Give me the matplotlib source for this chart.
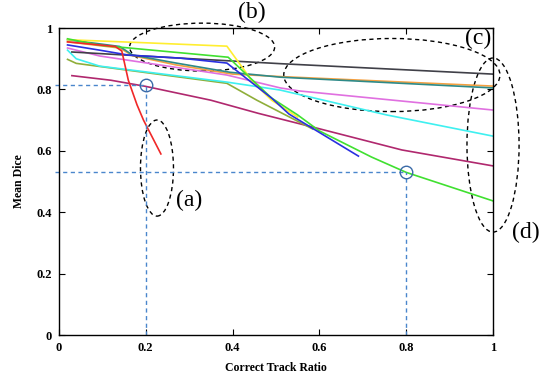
import matplotlib
matplotlib.use("Agg")
import matplotlib.pyplot as plt
from matplotlib.patches import Ellipse

# curves: (correct track ratio, mean dice)
red_x = [0.02, 0.13, 0.145, 0.16, 0.18, 0.195, 0.235]
red_y = [0.955, 0.94, 0.925, 0.83, 0.75, 0.70, 0.59]
yellow_x = [0.02, 0.20, 0.387, 0.447, 0.49, 0.55]
yellow_y = [0.962, 0.952, 0.941, 0.824, 0.765, 0.71]
green_x = [0.02, 0.094, 0.20, 0.39, 0.49, 0.55, 0.60, 0.72, 0.80, 1.0]
green_y = [0.965, 0.944, 0.93, 0.905, 0.772, 0.717, 0.665, 0.58, 0.53, 0.437]
teal_x = [0.02, 0.14, 0.17, 0.27, 0.394, 0.51, 1.0]
teal_y = [0.962, 0.94, 0.912, 0.886, 0.856, 0.84, 0.805]
orange_x = [0.02, 0.14, 0.17, 0.27, 0.40, 0.51, 1.0]
orange_y = [0.955, 0.935, 0.91, 0.88, 0.85, 0.842, 0.811]
black_x = [0.03, 0.28, 0.51, 1.0]
black_y = [0.922, 0.902, 0.884, 0.85]
blue_x = [0.02, 0.094, 0.16, 0.28, 0.387, 0.46, 0.49, 0.53, 0.69]
blue_y = [0.945, 0.928, 0.912, 0.902, 0.886, 0.805, 0.772, 0.72, 0.583]
magenta_x = [0.02, 0.094, 0.279, 0.387, 0.51, 0.555, 1.0]
magenta_y = [0.935, 0.909, 0.87, 0.847, 0.805, 0.795, 0.733]
cyan_x = [0.02, 0.04, 0.094, 0.387, 0.51, 0.755, 1.0]
cyan_y = [0.928, 0.90, 0.876, 0.824, 0.798, 0.717, 0.648]
olive_x = [0.02, 0.04, 0.387, 0.456, 0.585]
olive_y = [0.898, 0.885, 0.82, 0.765, 0.671]
maroon_x = [0.03, 0.12, 0.20, 0.35, 0.46, 0.60, 0.79, 1.0]
maroon_y = [0.845, 0.83, 0.81, 0.765, 0.722, 0.672, 0.603, 0.551]

# highlighted points
mark_x = [0.2, 0.8]
mark_y = [0.815, 0.53]

curves = [
    (maroon_x, maroon_y, '#b0286e'),
    (olive_x, olive_y, '#8fae3a'),
    (cyan_x, cyan_y, '#3ff0f0'),
    (magenta_x, magenta_y, '#e070e0'),
    (orange_x, orange_y, '#f5a040'),
    (teal_x, teal_y, '#2e8a88'),
    (black_x, black_y, '#404048'),
    (yellow_x, yellow_y, '#ffee30'),
    (green_x, green_y, '#40e030'),
    (blue_x, blue_y, '#2a30e0'),
    (red_x, red_y, '#f02828'),
]

plt.rcParams['font.family'] = ['Liberation Serif', 'DejaVu Serif']

fig = plt.figure(figsize=(5.4, 3.74), dpi=100)
ax = fig.add_axes([0.109, 0.104, 0.804, 0.821])

for xs, ys, c in curves:
    ax.plot(xs, ys, color=c, lw=1.2)

# dashed guide lines to the two marked points
dash_c = '#4a86cc'
for mx, my in zip(mark_x, mark_y):
    ax.plot([-0.01, mx], [my, my], color=dash_c, lw=1, ls=(0, (3, 2.5)), clip_on=False)
    ax.plot([mx, mx], [0, my], color=dash_c, lw=1, ls=(0, (3, 2.5)))
ax.plot(mark_x, mark_y, 'o', ms=9, mfc='none', mec='#3a6aa8', mew=1)

# dashed ellipses with their labels
ellipses = [
    ((0.226, 0.544), 0.076, 0.313),
    ((0.33, 0.938), 0.334, 0.156),
    ((0.767, 0.847), 0.498, 0.238),
    ((1.0, 0.619), 0.12, 0.567),
]
for (cx, cy), w, h in ellipses:
    ax.add_patch(Ellipse((cx, cy), w, h, fill=False, ec='black', lw=1,
                         ls=(0, (3, 2.5)), clip_on=False))

tags = ['(a)', '(b)', '(c)', '(d)']
tag_x = [0.30, 0.445, 0.965, 1.075]
tag_y = [0.44, 1.05, 0.965, 0.335]
for t, tx, ty in zip(tags, tag_x, tag_y):
    ax.text(tx, ty, t, fontsize=17, ha='center', va='center', clip_on=False)

ax.set_xlim(0, 1)
ax.set_ylim(0, 1)
ax.set_xticks([0, 0.2, 0.4, 0.6, 0.8, 1])
ax.set_xticklabels(['0', '0.2', '0.4', '0.6', '0.8', '1'])
ax.set_yticks([0, 0.2, 0.4, 0.6, 0.8, 1])
ax.set_yticklabels(['0', '0.2', '0.4', '0.6', '0.8', '1'])
ax.tick_params(direction='in', length=4, top=True, right=True, labelsize=9, pad=5)
for lab in ax.get_xticklabels() + ax.get_yticklabels():
    lab.set_fontweight('bold')
for s in ax.spines.values():
    s.set_linewidth(1)
ax.set_xlabel('Correct Track Ratio', fontsize=8.5, fontweight='bold', labelpad=6)
ax.set_ylabel('Mean Dice', fontsize=8.5, fontweight='bold', labelpad=8)

fig.savefig('out.png', dpi=100)
